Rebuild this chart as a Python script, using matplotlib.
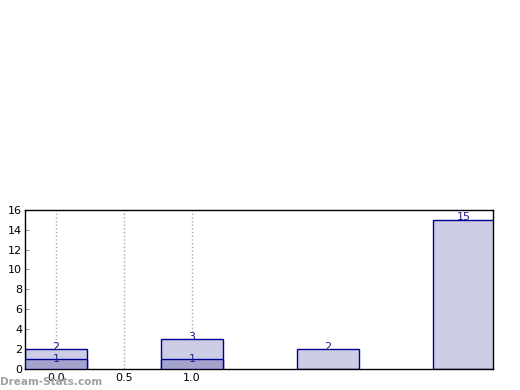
import matplotlib
matplotlib.use('Agg')
import matplotlib.pyplot as plt

# data
positions = [0, 1, 2, 3]
total_counts = [2, 3, 2, 15]
sub_counts = [1, 1, 0, 0]
x_ticks = [0.0, 0.5, 1.0]
x_tick_labels = ['0.0', '0.5', '1.0']
y_ticks = [0, 2, 4, 6, 8, 10, 12, 14, 16]

edge = '#000099'
fig = plt.figure(figsize=(5.2, 3.9), dpi=100)
ax = fig.add_axes([0.048, 0.054, 0.9, 0.408])

ax.bar(positions, total_counts, width=0.45, color='#ccccE5', edgecolor=edge, linewidth=1, zorder=2)
sub_pos = [p for p, v in zip(positions, sub_counts) if v > 0]
sub_val = [v for v in sub_counts if v > 0]
ax.bar(sub_pos, sub_val, width=0.45, color='#a3a3cc', edgecolor=edge, linewidth=1, zorder=3)

for p, v in zip(positions, total_counts):
    ax.text(p, v - 0.05, str(v), ha='center', va='baseline', fontsize=8, color='#22228a', zorder=4)
for p, v in zip(sub_pos, sub_val):
    ax.text(p, v - 0.05, str(v), ha='center', va='center', fontsize=8, color='#22228a', zorder=4)

ax.set_xlim(-0.228, 3.213)
ax.set_ylim(0, 16)
ax.set_xticks(x_ticks)
ax.set_xticklabels(x_tick_labels)
ax.set_yticks(y_ticks)
ax.tick_params(axis='y', direction='in', right=True, length=3, color='#999999', labelsize=8, pad=2)
ax.tick_params(axis='x', length=0, labelsize=8, pad=3)
ax.grid(axis='x', linestyle=':', color='#aaaaaa', linewidth=1, zorder=0)
ax.set_axisbelow(True)
for s in ax.spines.values():
    s.set_linewidth(1)

# watermark, overlaps the first x label as in the original
fig.text(0.0, 0.008, 'Dream-Stats.com', fontsize=7.5, fontweight='bold', color='#a0a0a0', ha='left', va='bottom')

fig.savefig('out.png', dpi=100)
